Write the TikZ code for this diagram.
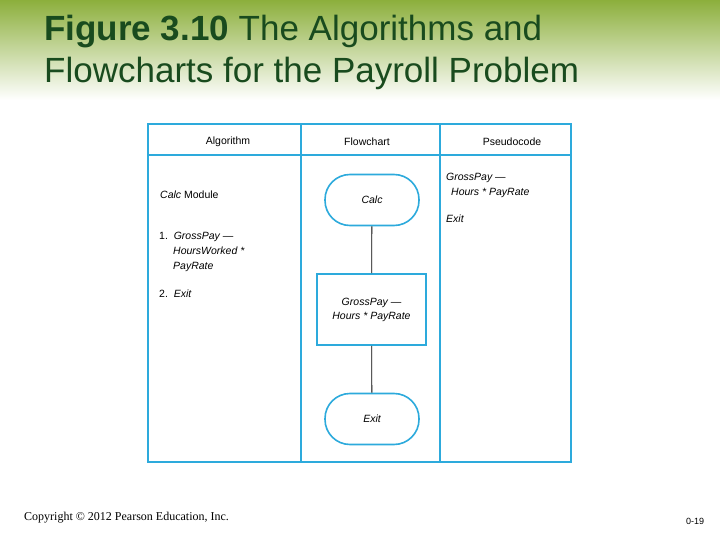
\documentclass[tikz,border=0pt]{standalone}
\usepackage{fontspec}
\setmainfont{Liberation Sans}
\newfontfamily\serifcr{Liberation Serif}
\definecolor{tcyan}{RGB}{45,170,220}
\definecolor{tgreen}{RGB}{25,75,30}
\definecolor{bandgreen}{RGB}{140,175,60}
\begin{document}
\begin{tikzpicture}[x=1pt,y=-1pt,
  tline/.style={draw=tcyan,line width=2pt},
  term/.style={draw=tcyan,line width=1.6pt,rounded corners=25pt,minimum width=94pt,minimum height=51pt,inner sep=0pt,font=\fontsize{10.5}{12}\selectfont\itshape},
  proc/.style={draw=tcyan,line width=1.6pt,minimum width=109pt,minimum height=71pt,inner sep=0pt,align=center,font=\fontsize{10.5}{14}\selectfont\itshape},
  txt/.style={anchor=north west,inner sep=0pt,align=left,font=\fontsize{10.5}{15}\selectfont},
  hdr/.style={inner sep=0pt,font=\fontsize{10.5}{12}\selectfont}]
\useasboundingbox (0,0) rectangle (720,540);
\fill[white] (0,0) rectangle (720,540);
\shade[top color=bandgreen,bottom color=white] (0,0) rectangle (720,100);
\node[anchor=west,inner sep=0pt,text=tgreen,align=left,font=\fontsize{35}{42}\selectfont] (title) at (44,52) {\textbf{Figure 3.10} The Algorithms and\\Flowcharts for the Payroll Problem};
% table
\draw[tline] (148,124) rectangle (571,462);
\draw[tline] (148,155) -- (571,155);
\draw[tline] (301,124) -- (301,462);
\draw[tline] (440,124) -- (440,462);
\node[hdr] (h1) at (228,142) {Algorithm};
\node[hdr] (h2) at (367,142) {Flowchart};
\node[hdr] (h3) at (512,142) {Pseudocode};
\node[txt] (calcmod) at (160,191) {\textit{Calc} Module};
\node[txt] (step1) at (159,232) {1.\ \ \textit{GrossPay —}\\\hspace{14pt}\textit{HoursWorked *}\\\hspace{14pt}\textit{PayRate}};
\node[txt] (step2) at (159,290) {2.\ \ \textit{Exit}};
\node[txt] (ps1) at (446,173) {\textit{GrossPay —}\\\hspace{5pt}\textit{Hours * PayRate}};
\node[txt] (ps2) at (446,215) {\textit{Exit}};
\node[term] (calc) at (372,200) {Calc};
\node[proc] (gp) at (371.5,309.5) {GrossPay —\\Hours * PayRate};
\node[term] (exit) at (372,419) {Exit};
\draw[black,line width=0.8pt] (calc) -- (gp);
\draw[black,line width=0.8pt] (gp) -- (exit);
\node[anchor=west,inner sep=0pt,font=\serifcr\fontsize{12}{14}\selectfont] (copy) at (24,518) {Copyright © 2012 Pearson Education, Inc.};
\node[anchor=west,inner sep=0pt,font=\fontsize{9}{11}\selectfont] (pg) at (686,521) {0-19};
\end{tikzpicture}
\end{document}
